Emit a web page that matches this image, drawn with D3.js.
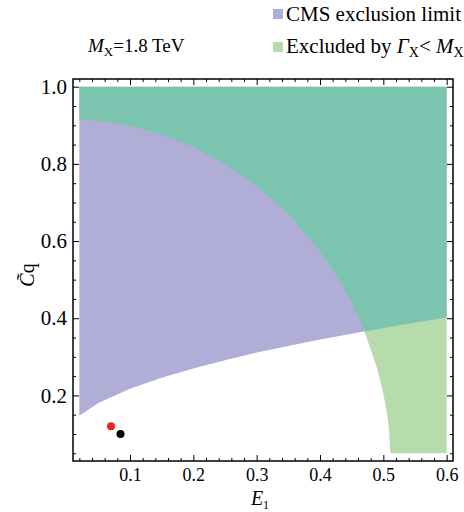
<!DOCTYPE html>
<html>
<head>
<meta charset="utf-8">
<script src="https://cdn.jsdelivr.net/npm/d3@7"></script>
<style>
body { margin: 0; background: #fff; }
text { font-family: "Liberation Serif", "Times New Roman", serif; fill: #000; }
</style>
</head>
<body>
<svg id="chart" width="464" height="512"></svg>
<script>
// tick values
var xTicks = [0.1, 0.2, 0.3, 0.4, 0.5, 0.6];
var yTicks = [0.2, 0.4, 0.6, 0.8, 1.0];
var xMinor = [0.02, 0.04, 0.06, 0.08, 0.12, 0.14, 0.16, 0.18, 0.22, 0.24, 0.26, 0.28,
              0.32, 0.34, 0.36, 0.38, 0.42, 0.44, 0.46, 0.48, 0.52, 0.54, 0.56, 0.58];
var yMinor = [0.05, 0.1, 0.15, 0.25, 0.3, 0.35, 0.45, 0.5, 0.55, 0.65, 0.7, 0.75, 0.85, 0.9, 0.95];

// scanned parameter box
var boxE = [0.02, 0.6];
var boxC = [0.05, 1.0];

// edge of the Gamma_X < M_X region (E1, Cq), top to bottom
var widthEdge = [[0.02, 0.915], [0.05, 0.912], [0.10, 0.898], [0.15, 0.876], [0.20, 0.844],
                 [0.25, 0.800], [0.30, 0.743], [0.35, 0.670], [0.40, 0.574], [0.43, 0.500],
                 [0.45, 0.440], [0.47, 0.367], [0.49, 0.271], [0.50, 0.205], [0.505, 0.161],
                 [0.5086, 0.12], [0.511, 0.05]];

// lower edge of the CMS exclusion (E1, Cq), left to right
var cmsEdge = [[0.02, 0.147], [0.05, 0.180], [0.10, 0.217], [0.15, 0.246], [0.20, 0.270],
               [0.25, 0.291], [0.30, 0.311], [0.35, 0.328], [0.40, 0.345], [0.45, 0.360],
               [0.50, 0.375], [0.55, 0.389], [0.60, 0.402]];

// benchmark points
var redPoint = [0.07, 0.12];
var blackPoint = [0.085, 0.10];

var colPurple = "#b0aed6";
var colGreen = "#b6dcac";
var colTeal = "#7bc4b0";

var svg = d3.select("#chart");

var x = d3.scaleLinear().domain([0.01, 0.61]).range([73, 453]);
var y = d3.scaleLinear().domain([0.03, 1.02]).range([461, 79]);

var line = d3.line()
	.x(function(d) { return x(d[0]); })
	.y(function(d) { return y(d[1]); });

// green: everything in the box outside the width edge
var greenPts = [[boxE[0], boxC[1]], [boxE[1], boxC[1]], [boxE[1], boxC[0]]]
	.concat(widthEdge.slice().reverse());
// purple: everything in the box above the CMS edge
var purplePts = [[boxE[0], boxC[1]], [boxE[1], boxC[1]]]
	.concat(cmsEdge.slice().reverse());

var defs = svg.append("defs");
defs.append("clipPath").attr("id", "greenClip")
	.append("path").attr("d", line(greenPts) + "Z");

svg.append("path").attr("d", line(greenPts) + "Z").attr("fill", colGreen);
svg.append("path").attr("d", line(purplePts) + "Z").attr("fill", colPurple);
svg.append("path").attr("d", line(purplePts) + "Z").attr("fill", colTeal)
	.attr("clip-path", "url(#greenClip)");

// points
svg.append("circle").attr("cx", x(redPoint[0])).attr("cy", y(redPoint[1]))
	.attr("r", 4).attr("fill", "#e8271e");
svg.append("circle").attr("cx", x(blackPoint[0])).attr("cy", y(blackPoint[1]))
	.attr("r", 4).attr("fill", "#000");

// frame ticks, pointing inward on all four sides
function drawAxis(axis, tx, ty, labelSize)
{
	var g = svg.append("g").attr("transform", "translate(" + tx + "," + ty + ")").call(axis);
	g.select(".domain").remove();
	g.selectAll("line").attr("stroke", "#000").attr("stroke-width", 1);
	if (labelSize) g.selectAll("text").style("font-size", labelSize).style("font-family", "Liberation Serif, serif");
	return g;
}

var fmt = d3.format(".1f");
drawAxis(d3.axisBottom(x).tickValues(xTicks).tickSize(-6).tickPadding(7).tickFormat(fmt), 0, 461, "18px");
drawAxis(d3.axisBottom(x).tickValues(xMinor).tickSize(-3).tickFormat(""), 0, 461);
drawAxis(d3.axisTop(x).tickValues(xTicks).tickSize(-6).tickFormat(""), 0, 79);
drawAxis(d3.axisTop(x).tickValues(xMinor).tickSize(-3).tickFormat(""), 0, 79);
drawAxis(d3.axisLeft(y).tickValues(yTicks).tickSize(-6).tickPadding(6).tickFormat(fmt), 73, 0, "21px");
drawAxis(d3.axisLeft(y).tickValues(yMinor).tickSize(-3).tickFormat(""), 73, 0);
drawAxis(d3.axisRight(y).tickValues(yTicks).tickSize(-6).tickFormat(""), 453, 0);
drawAxis(d3.axisRight(y).tickValues(yMinor).tickSize(-3).tickFormat(""), 453, 0);

svg.append("rect").attr("x", 73).attr("y", 79).attr("width", 380).attr("height", 382)
	.attr("fill", "none").attr("stroke", "#000").attr("stroke-width", 1.5);

// axis titles
var xl = svg.append("text").attr("x", 260).attr("y", 505).attr("text-anchor", "middle")
	.style("font-size", "20px");
xl.append("tspan").style("font-style", "italic").text("E");
xl.append("tspan").attr("dy", 4).style("font-size", "12px").text("1");

var yl = svg.append("text").attr("transform", "translate(34,275) rotate(-90)")
	.attr("text-anchor", "middle").style("font-size", "20px");
yl.append("tspan").style("font-style", "italic").text("C\u0303");
yl.append("tspan").text("q");

// title
var tt = svg.append("text").attr("x", 88).attr("y", 52).style("font-size", "19px");
tt.append("tspan").style("font-style", "italic").text("M");
tt.append("tspan").attr("dy", 4).style("font-size", "13px").text("X");
tt.append("tspan").attr("dy", -4).text("=1.8 TeV");

// legend
svg.append("rect").attr("x", 273).attr("y", 9).attr("width", 10).attr("height", 10).attr("fill", colPurple);
svg.append("text").attr("x", 286).attr("y", 21).style("font-size", "21px").text("CMS exclusion limit");
svg.append("rect").attr("x", 273).attr("y", 42).attr("width", 10).attr("height", 10).attr("fill", colGreen);
var lg = svg.append("text").attr("x", 286).attr("y", 53).style("font-size", "21px");
lg.append("tspan").text("Excluded by ");
lg.append("tspan").style("font-style", "italic").text("\u0393");
lg.append("tspan").attr("dy", 4).style("font-size", "14px").text("X");
lg.append("tspan").attr("dy", -4).text("< ");
lg.append("tspan").style("font-style", "italic").text("M");
lg.append("tspan").attr("dy", 4).style("font-size", "14px").text("X");
</script>
</body>
</html>
